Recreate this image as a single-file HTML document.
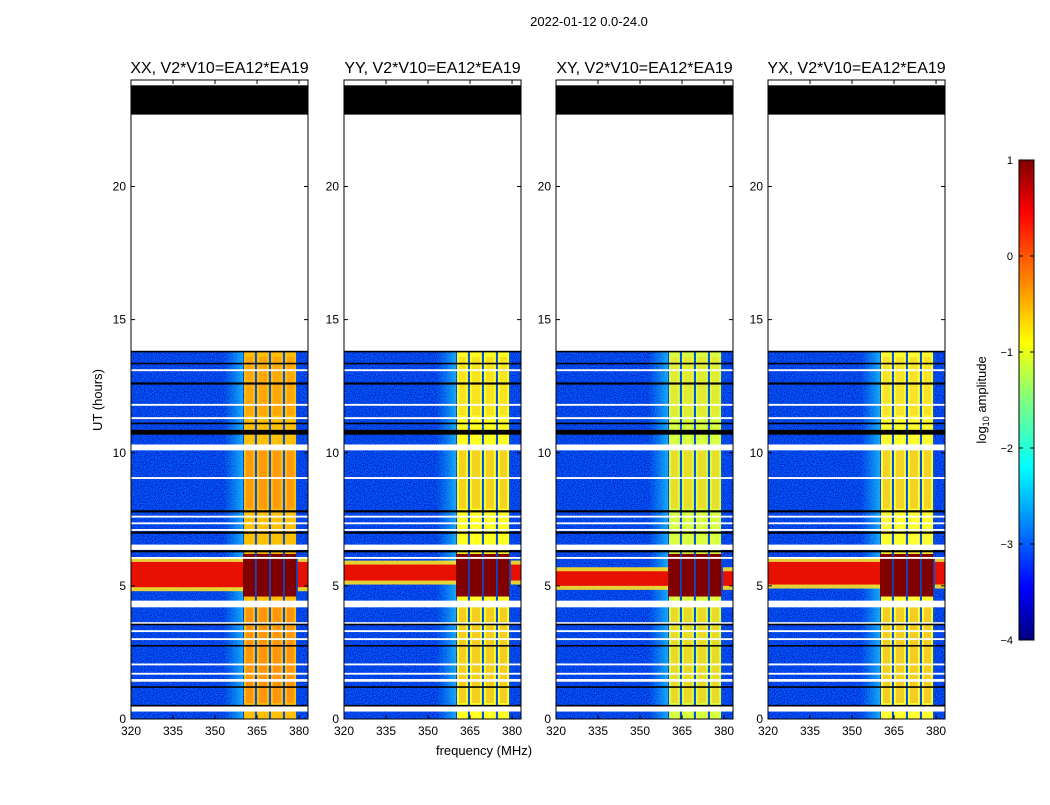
<!DOCTYPE html>
<html><head><meta charset="utf-8">
<style>
body{margin:0;background:#fff;font-family:"Liberation Sans",sans-serif}
svg text{font-family:"Liberation Sans",sans-serif}
</style></head>
<body>
<svg id="c" width="1050" height="800" viewBox="0 0 1050 800">
<defs>
<filter id="noise" x="0" y="0" width="100%" height="100%">
<feTurbulence type="fractalNoise" baseFrequency="0.9" numOctaves="1" seed="3"/>
<feColorMatrix type="matrix" values="0 0 0 0 0  0 0 0 0.9 -0.3  0 0 0 0.6 0.5  0 0 0 0 1"/>
</filter>
<linearGradient id="jet" x1="0" y1="1" x2="0" y2="0">
<stop offset="0" stop-color="#00007f"/><stop offset="0.11" stop-color="#0000ff"/>
<stop offset="0.36" stop-color="#00ffff"/><stop offset="0.5" stop-color="#7fff7f"/>
<stop offset="0.62" stop-color="#ffff00"/><stop offset="0.89" stop-color="#ff0000"/>
<stop offset="1" stop-color="#7f0000"/></linearGradient>
<linearGradient id="glow" x1="0" y1="0" x2="1" y2="0">
<stop offset="0" stop-color="#00c0ff" stop-opacity="0"/><stop offset="1" stop-color="#20d0ff" stop-opacity="0.7"/></linearGradient>
</defs>
<text x="589" y="26" font-size="13" text-anchor="middle">2022-01-12 0.0-24.0</text>
<text x="484" y="755" font-size="13" text-anchor="middle">frequency (MHz)</text>
<text transform="translate(102,400) rotate(-90)" font-size="13" text-anchor="middle">UT (hours)</text>
<g id="panels"></g>
<g>
<rect x="1019" y="160" width="15" height="480" fill="url(#jet)" stroke="#000"/>
<g id="cbt"></g>
<text transform="translate(986,400) rotate(-90)" font-size="13" text-anchor="middle">log<tspan font-size="9" dy="3">10</tspan><tspan dy="-3"> amplitude</tspan></text>
</g>
</svg>
<script>
const panelTitles=["XX, V2*V10=EA12*EA19","YY, V2*V10=EA12*EA19","XY, V2*V10=EA12*EA19","YX, V2*V10=EA12*EA19"];
const panelLeft=[131,344,556,768];
const xTicks=[320,335,350,365,380];
const yTicks=[0,5,10,15,20];
const bandEdges=[360,364.6,369.6,374.6,379.3];
const bandColor=["#ff8a10","#f0c020","#f0d020","#f0c020"];
const bandColor2=["#ffc000","#ffff20","#d8ff40","#ffff30"];
const redBandLo=[4.95,5.2,5.0,5.05];
const redBandHi=[5.9,5.8,5.55,5.9];
const whiteLines=[[13.1,0.07],[11.8,0.07],[11.3,0.07],[10.2,0.22],[9.05,0.07],[7.6,0.07],[7.35,0.07],[7.1,0.07],[6.45,0.2],[6.05,0.07],[4.32,0.25],[3.6,0.07],[3.3,0.07],[3.0,0.07],[2.05,0.07],[1.7,0.07],[1.45,0.1],[0.38,0.2]];
const blackLines=[[13.8,0.06],[13.35,0.06],[12.6,0.08],[11.1,0.06],[10.77,0.18],[7.8,0.08],[7.0,0.08],[6.3,0.08],[3.55,0.06],[2.75,0.06],[1.2,0.06],[0.5,0.06]];
const dataTop=13.8, blackTop=23.8, blackBot=22.7;
const cbTicks=[1,0,-1,-2,-3,-4];
const W=177,T=80,B=719,F0=320,F1=383.2,H0=0,H1=24;
const NS="http://www.w3.org/2000/svg";
function yS(h){return B-(h-H0)/(H1-H0)*(B-T);}
function mk(tag,at,par){const e=document.createElementNS(NS,tag);for(const k in at)e.setAttribute(k,at[k]);par.appendChild(e);return e;}
const root=document.getElementById('panels');
panelTitles.forEach((t,i)=>{
 const L=panelLeft[i];
 const xS=f=>L+(f-F0)/(F1-F0)*W;
 const g=mk('g',{},root);
 
 
 const r=(x,y,w,h,fill,name,extra)=>{const e=mk('rect',Object.assign({x:x,y:y,width:w,height:h,fill:fill},extra||{}),g);return e;};
 r(L,yS(dataTop),W,yS(0)-yS(dataTop),'#0828e8','data-background');
 r(L,yS(dataTop),W,yS(0)-yS(dataTop),'#000','noise',{filter:'url(#noise)',opacity:0.5});
 r(xS(353),yS(dataTop),xS(bandEdges[0])-xS(353),yS(0)-yS(dataTop),'url(#glow)','band-glow');
 for(let k=0;k<bandEdges.length-1;k++){
  const x0=xS(bandEdges[k])+1,x1=xS(bandEdges[k+1])-1;
  r(x0,yS(dataTop),x1-x0,yS(0)-yS(dataTop),bandColor2[i],'band-column');
  r(x0+2,yS(4.2),x1-x0-4,yS(0.6)-yS(4.2),bandColor[i],'band-column-bright',{opacity:0.8});
  r(x0+2,yS(10.1),x1-x0-4,yS(7.9)-yS(10.1),bandColor[i],'band-column-bright',{opacity:0.7});
  r(x0+2,yS(13.6),x1-x0-4,yS(11.4)-yS(13.6),bandColor[i],'band-column-bright',{opacity:0.45});
 }
 r(L,yS(redBandHi[i]+0.15),W,yS(redBandLo[i]-0.15)-yS(redBandHi[i]+0.15),'#ffe020','red-band-edge',{opacity:0.9});
 r(L,yS(redBandHi[i]),W,yS(redBandLo[i])-yS(redBandHi[i]),'#e81000','red-band');
 r(xS(bandEdges[0]),yS(6.2),xS(bandEdges[4])-xS(bandEdges[0]),yS(4.6)-yS(6.2),'#800000','red-band-core');
 for(let k=1;k<bandEdges.length;k++){
  r(xS(bandEdges[k])-0.8,yS(dataTop),1.6,yS(0)-yS(dataTop),'#0050e0','band-divider');
 }
 whiteLines.forEach(w=>r(L,yS(w[0]+w[1]/2),W,Math.max(1.5,(w[1])*26.6),'#fff','white-gap'));
 blackLines.forEach(w=>r(L,yS(w[0]+w[1]/2),W,Math.max(1.5,(w[1])*26.6),'#000','black-gap'));
 r(L,yS(blackTop),W,yS(blackBot)-yS(blackTop),'#000','flag-bar');
 r(L,T,W,B-T,'none','plot-frame',{stroke:'#000','stroke-width':1});
 xTicks.forEach(v=>{const x=xS(v);
  mk('line',{x1:x,x2:x,y1:B,y2:B-4,stroke:'#000'},g);mk('line',{x1:x,x2:x,y1:T,y2:T+4,stroke:'#000'},g);
  const tx=mk('text',{x:x,y:B+16,'font-size':12,'text-anchor':'middle'},g);tx.textContent=v;
  });
 yTicks.forEach(v=>{const y=yS(v);
  mk('line',{x1:L,x2:L+4,y1:y,y2:y,stroke:'#000'},g);mk('line',{x1:L+W,x2:L+W-4,y1:y,y2:y,stroke:'#000'},g);
  const tx=mk('text',{x:L-5,y:y+4,'font-size':12,'text-anchor':'end'},g);tx.textContent=v;
  });
 const tt=mk('text',{x:L+W/2,y:73,'font-size':16,'text-anchor':'middle'},g);tt.textContent=t;
 
});
const cb=document.getElementById('cbt');
cbTicks.forEach(v=>{const y=160+(1-v)/5*480;
 mk('line',{x1:1019,x2:1023,y1:y,y2:y,stroke:'#000'},cb);mk('line',{x1:1034,x2:1030,y1:y,y2:y,stroke:'#000'},cb);
 const tx=mk('text',{x:1013,y:y+4,'font-size':11,'text-anchor':'end'},cb);tx.textContent=v<0?'\u2212'+(-v):v;
 });
</script>
</body></html>
